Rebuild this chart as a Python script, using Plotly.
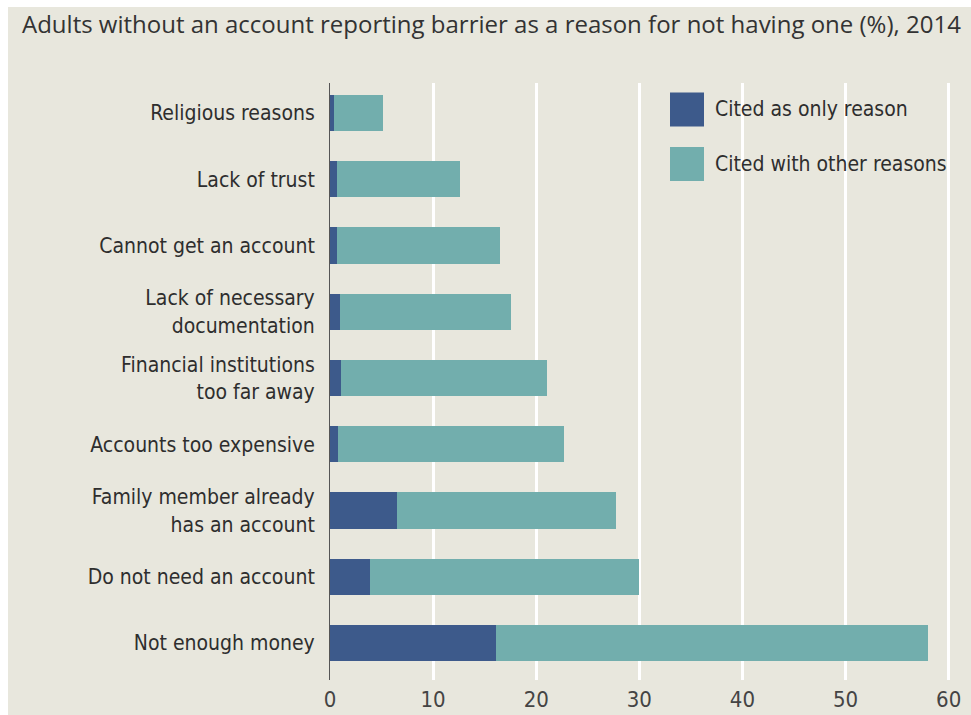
import plotly.graph_objects as go

# Barriers, listed from top to bottom of the chart
barriers = [
    "Religious reasons",
    "Lack of trust",
    "Cannot get an account",
    "Lack of necessary<br>documentation",
    "Financial institutions<br>too far away",
    "Accounts too expensive",
    "Family member already<br>has an account",
    "Do not need an account",
    "Not enough money",
]
# Share of adults without an account (%)
only_reason = [0.4, 0.7, 0.7, 1.0, 1.1, 0.8, 6.5, 3.9, 16.1]
total_cited = [5.1, 12.6, 16.5, 17.6, 21.0, 22.7, 27.7, 30.0, 58.0]
with_other = [round(t - o, 1) for t, o in zip(total_cited, only_reason)]

x_ticks = [0, 10, 20, 30, 40, 50, 60]
title_text = "Adults without an account reporting barrier as a reason for not having one (%), 2014"
series_names = ["Cited as only reason", "Cited with other reasons"]

DARK = "#3d5a8b"
TEAL = "#72aead"
BG = "#e8e7dd"
TXT = "#2e2e2e"
NARROW = "DejaVu Sans Condensed, Liberation Sans Narrow, sans-serif"

W, H = 971, 715
L, R, T, B = 330, 12, 83, 35
pw, ph = W - L - R, H - T - B


def px(x):
    return (x - L) / pw


def py(y):
    return (H - B - y) / ph


fig = go.Figure()
fig.add_trace(go.Bar(y=barriers, x=only_reason, orientation="h", name=series_names[0],
                     marker=dict(color=DARK, line=dict(width=0)), width=0.55))
fig.add_trace(go.Bar(y=barriers, x=with_other, orientation="h", name=series_names[1],
                     marker=dict(color=TEAL, line=dict(width=0)), width=0.55))

shapes = [
    # thin white border along the top and left of the beige panel
    dict(type="rect", xref="paper", yref="paper", x0=px(-5), x1=px(W + 5), y0=py(7), y1=py(-5),
         fillcolor="white", line=dict(width=0), layer="below"),
    dict(type="rect", xref="paper", yref="paper", x0=px(-5), x1=px(8), y0=py(H + 5), y1=py(-5),
         fillcolor="white", line=dict(width=0), layer="below"),
]
annotations = [
    dict(text=title_text, xref="paper", yref="paper", x=px(20), y=py(23), xanchor="left",
         yanchor="middle", showarrow=False, font=dict(family="Open Sans, sans-serif", size=24, color="#333333")),
]

# legend swatches and labels
for i, (name, col) in enumerate(zip(series_names, [DARK, TEAL])):
    yc = 109.5 + i * 54.5
    shapes.append(dict(type="rect", xref="paper", yref="paper", x0=px(670), x1=px(704),
                       y0=py(yc + 17), y1=py(yc - 17), fillcolor=col, line=dict(width=0)))
    annotations.append(dict(text=name, xref="paper", yref="paper", x=px(713), y=py(yc),
                            xanchor="left", yanchor="middle", showarrow=False,
                            font=dict(family=NARROW, size=21, color=TXT)))

fig.update_layout(
    width=W, height=H,
    margin=dict(l=L, r=R, t=T, b=B, pad=0, autoexpand=False),
    barmode="stack",
    showlegend=False,
    paper_bgcolor=BG,
    plot_bgcolor=BG,
    shapes=shapes,
    annotations=annotations,
    xaxis=dict(range=[0, 61], tickvals=x_ticks, showgrid=True, gridcolor="white", gridwidth=3,
               zeroline=False, showline=False, ticks="", ticklabelstandoff=4, automargin=False,
               tickfont=dict(family=NARROW, size=22, color="#444444")),
    yaxis=dict(type="category", categoryarray=barriers, range=[8.558, -0.453],
               showgrid=False, zeroline=False, showline=True, linecolor="#555555", linewidth=1,
               ticks="", ticklabelstandoff=10, automargin=False,
               tickfont=dict(family=NARROW, size=21, color=TXT)),
)

fig.write_html("out.html")
